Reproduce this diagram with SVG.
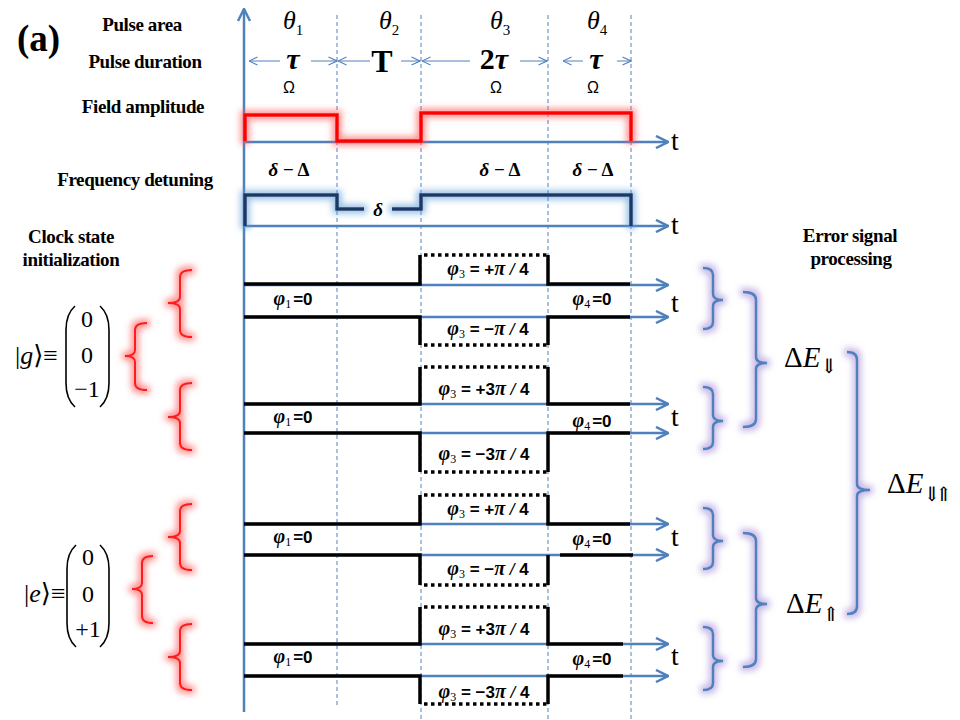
<svg xmlns="http://www.w3.org/2000/svg" width="960" height="720" viewBox="0 0 960 720">
<style>
.lbl{font-family:"Liberation Serif",serif;font-weight:bold;font-size:19px;fill:#000;text-anchor:middle;letter-spacing:-0.4px}
.ax{stroke:#4f81bd;stroke-width:2.5;fill:none}
.dash{stroke:#4f81bd;stroke-width:1;stroke-dasharray:4 3;fill:none}
.dur{stroke:#4f81bd;stroke-width:1;fill:none}
.tr{stroke:#000;stroke-width:3.5;fill:none}
.dot{stroke:#000;stroke-width:3.5;fill:none;stroke-dasharray:3.5 3.5}
.rb{stroke:#ff1a1a;stroke-width:2;fill:none}
.bb{stroke:#4f81bd;stroke-width:2.5;fill:none}
.ph{font-family:"Liberation Sans",sans-serif;font-weight:bold;font-size:17px;text-anchor:middle}
.gk{font-family:"Liberation Serif",serif;font-style:italic;font-weight:bold;font-size:20px}
.sub{font-family:"Liberation Serif",serif;font-weight:normal;font-style:normal;font-size:12px}
.t{font-family:"Liberation Serif",serif;font-size:28px}
.th{font-family:"Liberation Serif",serif;font-style:italic;font-size:26px}
.thsub{font-style:normal;font-size:15px}
.om{font-family:"Liberation Sans",sans-serif;font-size:16px;text-anchor:middle}
.dl{font-family:"Liberation Serif",serif;font-weight:bold;font-size:19px;text-anchor:middle}
.mx{font-family:"Liberation Serif",serif;font-size:24px;text-anchor:middle}
.ket{font-family:"Liberation Serif","DejaVu Serif",serif;font-size:26px}
.de{font-family:"Liberation Serif","DejaVu Serif",serif;font-size:29px}
.desub{font-family:"DejaVu Serif","DejaVu Sans",serif;font-size:20px}
.par{stroke:#000;stroke-width:1.6;fill:none}
</style>
<defs>
<marker id="ah" viewBox="0 0 14 14" refX="13" refY="7" markerWidth="14" markerHeight="14" markerUnits="userSpaceOnUse" orient="auto"><path d="M1,1 L13,7 L1,13" fill="none" stroke="#4f81bd" stroke-width="2.5"/></marker>
<marker id="sh" viewBox="0 0 10 10" refX="9.5" refY="5" markerWidth="10" markerHeight="10" markerUnits="userSpaceOnUse" orient="auto"><path d="M1,1 L9.5,5 L1,9" fill="none" stroke="#4f81bd" stroke-width="1.1"/></marker>
<filter id="gRed" filterUnits="userSpaceOnUse" x="0" y="0" width="960" height="720">
<feMorphology in="SourceAlpha" operator="dilate" radius="3" result="d"/>
<feGaussianBlur in="d" stdDeviation="3" result="b"/>
<feFlood flood-color="#ff5050" flood-opacity="0.6"/>
<feComposite in2="b" operator="in" result="g"/>
<feMerge><feMergeNode in="g"/><feMergeNode in="SourceGraphic"/></feMerge>
</filter>
<filter id="gBlue" filterUnits="userSpaceOnUse" x="0" y="0" width="960" height="720">
<feMorphology in="SourceAlpha" operator="dilate" radius="3" result="d"/>
<feGaussianBlur in="d" stdDeviation="3" result="b"/>
<feFlood flood-color="#5b9bd5" flood-opacity="0.6"/>
<feComposite in2="b" operator="in" result="g"/>
<feMerge><feMergeNode in="g"/><feMergeNode in="SourceGraphic"/></feMerge>
</filter>
<filter id="gPur" filterUnits="userSpaceOnUse" x="0" y="0" width="960" height="720">
<feMorphology in="SourceAlpha" operator="dilate" radius="3" result="d"/>
<feGaussianBlur in="d" stdDeviation="3" result="b"/>
<feFlood flood-color="#a58cd8" flood-opacity="0.6"/>
<feComposite in2="b" operator="in" result="g"/>
<feMerge><feMergeNode in="g"/><feMergeNode in="SourceGraphic"/></feMerge>
</filter>
</defs>
<rect width="960" height="720" fill="#fff"/>

<g id="labels">
<text x="17" y="51" font-family="Liberation Serif,serif" font-weight="bold" font-size="37">(a)</text>
<text class="lbl" x="142" y="31">Pulse area</text>
<text class="lbl" x="145" y="68">Pulse duration</text>
<text class="lbl" x="143" y="113">Field amplitude</text>
<text class="lbl" x="135" y="186">Frequency detuning</text>
<text class="lbl" x="71" y="243">Clock state</text>
<text class="lbl" x="71" y="266">initialization</text>
<text class="lbl" x="850" y="242">Error signal</text>
<text class="lbl" x="851" y="265">processing</text>
</g>

<g id="grid">
<line class="dash" x1="337" y1="15" x2="337" y2="705"/>
<line class="dash" x1="421" y1="15" x2="421" y2="720"/>
<line class="dash" x1="548" y1="15" x2="548" y2="720"/>
<line class="dash" x1="631" y1="15" x2="631" y2="720"/>
</g>

<g id="header">
<text class="th" x="283" y="29">θ<tspan class="thsub" dy="6">1</tspan></text>
<text class="th" x="379" y="29">θ<tspan class="thsub" dy="6">2</tspan></text>
<text class="th" x="490" y="29">θ<tspan class="thsub" dy="6">3</tspan></text>
<text class="th" x="587" y="29">θ<tspan class="thsub" dy="6">4</tspan></text>
<line class="dur" x1="280" y1="61" x2="249" y2="61" marker-end="url(#sh)"/>
<line class="dur" x1="311" y1="61" x2="337" y2="61" marker-end="url(#sh)"/>
<line class="dur" x1="370" y1="61" x2="338" y2="61" marker-end="url(#sh)"/>
<line class="dur" x1="401" y1="61" x2="420" y2="61" marker-end="url(#sh)"/>
<line class="dur" x1="470" y1="61" x2="422" y2="61" marker-end="url(#sh)"/>
<line class="dur" x1="520" y1="61" x2="547" y2="61" marker-end="url(#sh)"/>
<line class="dur" x1="583" y1="61" x2="563" y2="61" marker-end="url(#sh)"/>
<line class="dur" x1="617" y1="61" x2="631" y2="61" marker-end="url(#sh)"/>
<text x="293" y="69" font-family="Liberation Serif,serif" font-style="italic" font-weight="bold" font-size="30" text-anchor="middle">τ</text>
<text x="382" y="72" font-family="Liberation Serif,serif" font-weight="bold" font-size="32" text-anchor="middle">T</text>
<text x="494" y="69" font-family="Liberation Serif,serif" font-weight="bold" font-size="30" text-anchor="middle">2<tspan font-style="italic">τ</tspan></text>
<text x="596" y="69" font-family="Liberation Serif,serif" font-style="italic" font-weight="bold" font-size="30" text-anchor="middle">τ</text>
<text class="om" x="289" y="93">Ω</text>
<text class="om" x="496" y="93">Ω</text>
<text class="om" x="593" y="93">Ω</text>
</g>

<g id="connectors">
<line class="ax" x1="244" y1="712" x2="244" y2="9" stroke-width="3" marker-end="url(#ah)"/>
<line class="ax" x1="244" y1="142" x2="668" y2="142" marker-end="url(#ah)"/>
<line class="ax" x1="244" y1="226" x2="668" y2="226" marker-end="url(#ah)"/>
<line class="ax" x1="244" y1="285" x2="668" y2="285" marker-end="url(#ah)"/>
<line class="ax" x1="244" y1="317" x2="668" y2="317" marker-end="url(#ah)"/>
<line class="ax" x1="244" y1="404" x2="668" y2="404" marker-end="url(#ah)"/>
<line class="ax" x1="244" y1="433" x2="668" y2="433" marker-end="url(#ah)"/>
<line class="ax" x1="244" y1="524" x2="668" y2="524" marker-end="url(#ah)"/>
<line class="ax" x1="244" y1="555" x2="668" y2="555" marker-end="url(#ah)"/>
<line class="ax" x1="244" y1="644" x2="668" y2="644" marker-end="url(#ah)"/>
<line class="ax" x1="244" y1="676" x2="668" y2="676" marker-end="url(#ah)"/>
</g>

<g id="t-labels" class="t">
<text x="671" y="150">t</text>
<text x="671" y="234">t</text>
<text x="671" y="312">t</text>
<text x="671" y="426">t</text>
<text x="671" y="546">t</text>
<text x="671" y="665">t</text>
</g>

<g id="field">
<path d="M245,141 V115 H337 V141 H421 V113 H631 V141" stroke="#ff0000" stroke-width="3.5" fill="none" filter="url(#gRed)"/>
</g>

<g id="detuning">
<path d="M245,226 V195 H337 V209 H364 M392,209 H421 V195 H631 V226" stroke="#1f3864" stroke-width="3.5" fill="none" filter="url(#gBlue)"/>
<text class="dl" x="289" y="176"><tspan font-style="italic">δ</tspan> − Δ</text>
<text class="dl" x="500" y="176"><tspan font-style="italic">δ</tspan> − Δ</text>
<text class="dl" x="593" y="176"><tspan font-style="italic">δ</tspan> − Δ</text>
<text class="dl" x="378" y="216" font-style="italic">δ</text>
</g>

<g id="traces">
<path class="tr" d="M244,284 H420 V255 M548,255 V284 H630"/>
<path class="dot" d="M424,255 H548"/>
<path class="tr" d="M244,317 H420 V345 M548,345 V317 H630"/>
<path class="dot" d="M424,345 H548"/>
<path class="tr" d="M244,404 H420 V367 M548,367 V404 H630"/>
<path class="dot" d="M424,367 H548"/>
<path class="tr" d="M244,433 H420 V472 M548,472 V433 H630"/>
<path class="dot" d="M424,472 H548"/>
<path class="tr" d="M244,524 H420 V495 M548,495 V524 H630"/>
<path class="dot" d="M424,495 H548"/>
<path class="tr" d="M244,555 H420 V585 M548,585 V555 M560,555 H633"/>
<path class="dot" d="M424,585 H548"/>
<path class="tr" d="M244,644 H420 V607 M548,607 V644 H623"/>
<path class="dot" d="M424,607 H548"/>
<path class="tr" d="M244,676 H420 V704 M548,704 V676 H623"/>
<path class="dot" d="M424,704 H548"/>
</g>

<g id="phase-labels" class="ph">
<text x="488" y="275"><tspan class="gk">φ</tspan><tspan class="sub" dy="3">3</tspan><tspan dy="-3"> = +</tspan><tspan class="gk">π</tspan><tspan font-style="italic" font-weight="normal"> / </tspan>4</text>
<text x="293" y="305"><tspan class="gk">φ</tspan><tspan class="sub" dy="3">1</tspan><tspan dx="2" dy="-3">=0</tspan></text>
<text x="592" y="305"><tspan class="gk">φ</tspan><tspan class="sub" dy="3">4</tspan><tspan dx="2" dy="-3">=0</tspan></text>
<text x="488" y="335"><tspan class="gk">φ</tspan><tspan class="sub" dy="3">3</tspan><tspan dy="-3"> = −</tspan><tspan class="gk">π</tspan><tspan font-style="italic" font-weight="normal"> / </tspan>4</text>
<text x="484" y="395"><tspan class="gk">φ</tspan><tspan class="sub" dy="3">3</tspan><tspan dy="-3"> = +3</tspan><tspan class="gk">π</tspan><tspan font-style="italic" font-weight="normal"> / </tspan>4</text>
<text x="293" y="423"><tspan class="gk">φ</tspan><tspan class="sub" dy="3">1</tspan><tspan dx="2" dy="-3">=0</tspan></text>
<text x="592" y="427"><tspan class="gk">φ</tspan><tspan class="sub" dy="3">4</tspan><tspan dx="2" dy="-3">=0</tspan></text>
<text x="484" y="460"><tspan class="gk">φ</tspan><tspan class="sub" dy="3">3</tspan><tspan dy="-3"> = −3</tspan><tspan class="gk">π</tspan><tspan font-style="italic" font-weight="normal"> / </tspan>4</text>
<text x="488" y="515"><tspan class="gk">φ</tspan><tspan class="sub" dy="3">3</tspan><tspan dy="-3"> = +</tspan><tspan class="gk">π</tspan><tspan font-style="italic" font-weight="normal"> / </tspan>4</text>
<text x="293" y="543"><tspan class="gk">φ</tspan><tspan class="sub" dy="3">1</tspan><tspan dx="2" dy="-3">=0</tspan></text>
<text x="592" y="545"><tspan class="gk">φ</tspan><tspan class="sub" dy="3">4</tspan><tspan dx="2" dy="-3">=0</tspan></text>
<text x="488" y="575"><tspan class="gk">φ</tspan><tspan class="sub" dy="3">3</tspan><tspan dy="-3"> = −</tspan><tspan class="gk">π</tspan><tspan font-style="italic" font-weight="normal"> / </tspan>4</text>
<text x="484" y="635"><tspan class="gk">φ</tspan><tspan class="sub" dy="3">3</tspan><tspan dy="-3"> = +3</tspan><tspan class="gk">π</tspan><tspan font-style="italic" font-weight="normal"> / </tspan>4</text>
<text x="293" y="663"><tspan class="gk">φ</tspan><tspan class="sub" dy="3">1</tspan><tspan dx="2" dy="-3">=0</tspan></text>
<text x="592" y="665"><tspan class="gk">φ</tspan><tspan class="sub" dy="3">4</tspan><tspan dx="2" dy="-3">=0</tspan></text>
<text x="484" y="698"><tspan class="gk">φ</tspan><tspan class="sub" dy="3">3</tspan><tspan dy="-3"> = −3</tspan><tspan class="gk">π</tspan><tspan font-style="italic" font-weight="normal"> / </tspan>4</text>
</g>

<g id="state-g">
<text class="ket" x="15" y="364">|<tspan font-style="italic">g</tspan>⟩≡</text>
<path class="par" d="M75,306 Q66,314 66,330 V383 Q66,399 75,407"/>
<path class="par" d="M100,306 Q109,314 109,330 V383 Q109,399 100,407"/>
<text class="mx" x="87" y="327">0</text>
<text class="mx" x="87" y="363">0</text>
<text class="mx" x="87" y="397">−1</text>
</g>

<g id="state-e">
<text class="ket" x="24" y="602">|<tspan font-style="italic">e</tspan>⟩≡</text>
<path class="par" d="M76,545 Q67,553 67,569 V623 Q67,639 76,647"/>
<path class="par" d="M100,545 Q109,553 109,569 V623 Q109,639 100,647"/>
<text class="mx" x="88" y="565">0</text>
<text class="mx" x="88" y="602">0</text>
<text class="mx" x="88" y="637">+1</text>
</g>

<g id="left-braces" filter="url(#gRed)">
<path class="rb" d="M192,270 Q180,270 180,277 V297 Q180,303 168,303 Q180,303 180,309 V330 Q180,337 192,337"/>
<path class="rb" d="M192,383 Q180,383 180,390 V411 Q180,417 168,417 Q180,417 180,423 V443 Q180,450 192,450"/>
<path class="rb" d="M192,504 Q180,504 180,511 V531 Q180,537 168,537 Q180,537 180,543 V563 Q180,570 192,570"/>
<path class="rb" d="M192,624 Q180,624 180,631 V651 Q180,657 168,657 Q180,657 180,663 V683 Q180,690 192,690"/>
<path class="rb" d="M147,323 Q135,323 135,330 V350 Q135,356 125,356 Q135,356 135,362 V383 Q135,390 147,390"/>
<path class="rb" d="M153,556 Q142,556 142,563 V583 Q142,589 132,589 Q142,589 142,595 V616 Q142,623 153,623"/>
</g>

<g id="right-braces" filter="url(#gPur)">
<path class="bb" d="M703,268 Q713,268 713,275 V294 Q713,300 723,300 Q713,300 713,306 V322 Q713,329 703,329"/>
<path class="bb" d="M703,387 Q713,387 713,394 V415 Q713,421 723,421 Q713,421 713,427 V442 Q713,449 703,449"/>
<path class="bb" d="M703,508 Q713,508 713,515 V535 Q713,541 723,541 Q713,541 713,547 V562 Q713,569 703,569"/>
<path class="bb" d="M703,627 Q713,627 713,634 V655 Q713,661 723,661 Q713,661 713,667 V683 Q713,690 703,690"/>
<path class="bb" d="M743,292 Q756,292 756,300 V357 Q756,363 767,363 Q756,363 756,369 V419 Q756,427 743,427"/>
<path class="bb" d="M743,533 Q756,533 756,541 V598 Q756,604 767,604 Q756,604 756,610 V659 Q756,667 743,667"/>
<path class="bb" d="M847,352 Q857,352 857,360 V484 Q857,490 870,490 Q857,490 857,496 V606 Q857,614 847,614"/>
</g>

<g id="error-labels">
<text class="de" x="784" y="367">Δ<tspan font-style="italic">E</tspan><tspan class="desub" dy="6">⇓</tspan></text>
<text class="de" x="786" y="613">Δ<tspan font-style="italic">E</tspan><tspan class="desub" dy="8">⇑</tspan></text>
<text class="de" x="887" y="493">Δ<tspan font-style="italic">E</tspan><tspan class="desub" dy="8" letter-spacing="-5">⇓⇑</tspan></text>
</g>
</svg>
